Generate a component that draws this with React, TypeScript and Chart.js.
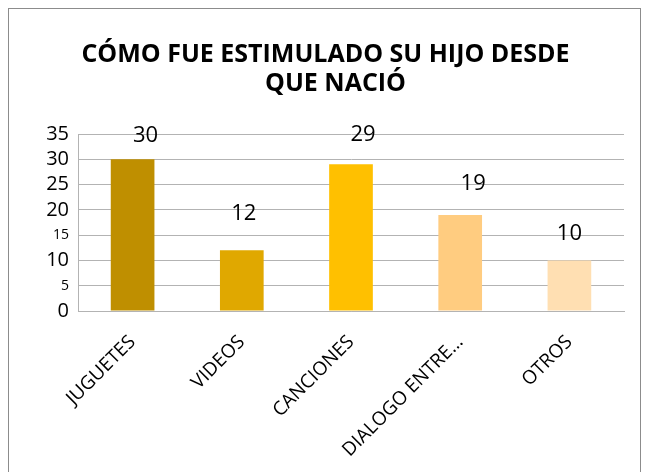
import React, { useEffect, useRef } from "react";
import { Chart, registerables } from "chart.js";

Chart.register(...registerables);

const titleLines = ["CÓMO FUE ESTIMULADO SU HIJO DESDE", "QUE NACIÓ"];
const categories = ["JUGUETES", "VIDEOS", "CANCIONES", "DIALOGO ENTRE…", "OTROS"];
const values = [30, 12, 29, 19, 10];
const barColors = ["#BF8F00", "#E0A800", "#FFC000", "#FFCC80", "#FFDFB2"];
const smallTicks = [5, 15];

const FONT = "'Open Sans', 'Liberation Sans', sans-serif";

const titlePlugin = {
  id: "customTitle",
  afterDraw(chart: any) {
    const ctx = chart.ctx;
    ctx.save();
    ctx.fillStyle = "#000";
    ctx.font = `bold 25px ${FONT}`;
    ctx.textAlign = "center";
    ctx.textBaseline = "alphabetic";
    const cx = chart.width / 2 + 1;
    ctx.fillText(titleLines[0], cx, 53);
    ctx.fillText(titleLines[1], cx + 10, 82);
    ctx.restore();
  },
};

const labelOffsets = [
  { dx: 13, dy: 24 },
  { dx: 2, dy: 37 },
  { dx: 12, dy: 30 },
  { dx: 13, dy: 31 },
  { dx: 0, dy: 27 },
];

const valueLabelPlugin = {
  id: "valueLabels",
  afterDatasetsDraw(chart: any) {
    const ctx = chart.ctx;
    const meta = chart.getDatasetMeta(0);
    ctx.save();
    ctx.fillStyle = "#000";
    ctx.font = `22px ${FONT}`;
    ctx.textAlign = "center";
    ctx.textBaseline = "middle";
    meta.data.forEach((bar: any, i: number) => {
      const off = labelOffsets[i];
      ctx.fillText(String(values[i]), bar.x + off.dx, bar.y - off.dy);
    });
    ctx.restore();
  },
};

export default function App() {
  const ref = useRef<HTMLCanvasElement | null>(null);
  useEffect(() => {
    if (!ref.current) return;
    const chart = new Chart(ref.current, {
      type: "bar",
      data: {
        labels: categories,
        datasets: [
          {
            data: values,
            backgroundColor: barColors,
            borderWidth: 0,
            barPercentage: 0.4,
            categoryPercentage: 1,
          },
        ],
      },
      options: {
        animation: false,
        responsive: false,
        maintainAspectRatio: false,
        layout: { padding: { top: 125, right: 16, left: 0, bottom: 0 } },
        plugins: {
          legend: { display: false },
          title: { display: false },
          tooltip: { enabled: false },
        },
        scales: {
          x: {
            grid: { display: false, drawTicks: false },
            border: { display: true, color: "#b3b3b3" },
            ticks: {
              color: "#000",
              font: { family: FONT, size: 19 },
              minRotation: 45,
              maxRotation: 45,
              padding: 20,
              autoSkip: false,
            },
            afterFit(scale: any) {
              scale.height = 166;
            },
          },
          y: {
            min: 0,
            max: 35,
            grid: { color: "#b3b3b3", drawTicks: false, lineWidth: 1 },
            border: { display: true, color: "#b3b3b3" },
            ticks: {
              stepSize: 5,
              autoSkip: false,
              color: "#000",
              padding: 9,
              font: (c: any) => ({
                family: FONT,
                size: c.tick && smallTicks.includes(c.tick.value) ? 14 : 20,
              }),
            },
            afterFit(scale: any) {
              scale.width = 69;
            },
          },
        },
      },
      plugins: [titlePlugin, valueLabelPlugin],
    });
    return () => chart.destroy();
  }, []);

  return (
    <div
      style={{
        width: 633,
        height: 470,
        border: "1px solid #8c8c8c",
        boxSizing: "border-box",
        background: "#fff",
        overflow: "hidden",
      }}
    >
      <canvas ref={ref} width={631} height={468} style={{ display: "block" }} />
    </div>
  );
}
